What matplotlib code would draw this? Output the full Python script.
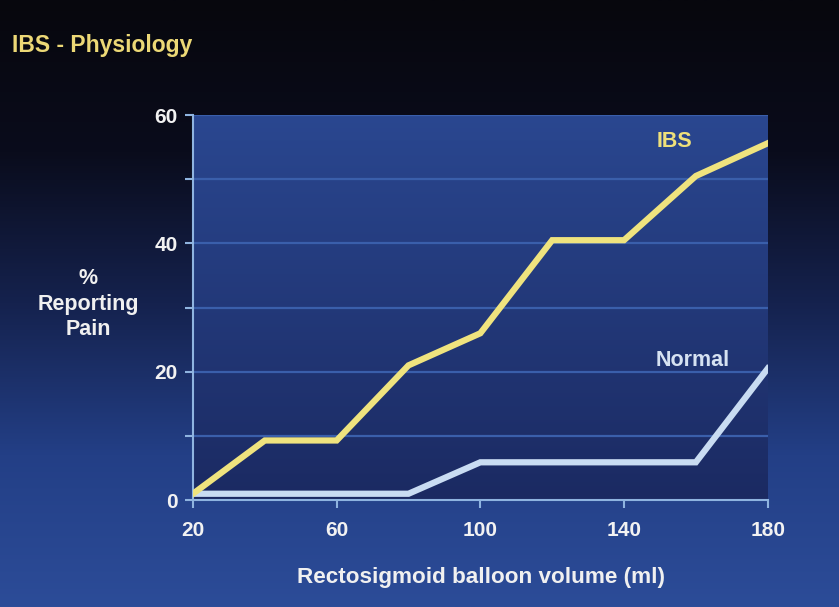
import numpy as np
import matplotlib
matplotlib.use("Agg")
import matplotlib.pyplot as plt
from matplotlib.colors import LinearSegmentedColormap

volume = [20, 40, 60, 80, 100, 120, 140, 160, 180]
ibs = [1, 9.3, 9.3, 21, 26, 40.5, 40.5, 50.5, 55.6]
normal = [1, 1, 1, 1, 5.9, 5.9, 5.9, 5.9, 20.5]
x_ticks = [20, 60, 100, 140, 180]
y_ticks = [0, 20, 40, 60]
y_grid = [10, 20, 30, 40, 50]

plt.rcParams['font.family'] = ['Liberation Sans', 'DejaVu Sans']

fig = plt.figure(figsize=(8.39, 6.07), dpi=100)

# figure background gradient
bg = fig.add_axes([0, 0, 1, 1], zorder=0)
bg_cmap = LinearSegmentedColormap.from_list(
    "bg", [(0, "#07070d"), (0.25, "#0a0c1c"), (0.5, "#15224e"), (0.75, "#233f86"), (1, "#2c4c98")])
grad = np.linspace(0, 1, 256).reshape(-1, 1)
bg.imshow(grad, aspect="auto", cmap=bg_cmap, extent=[0, 1, 0, 1], origin="upper")
bg.set_axis_off()

ax = fig.add_axes([0.230, 0.176, 0.685, 0.6345], zorder=1)
ax.set_xlim(20, 180)
ax.set_ylim(0, 60)

ax_cmap = LinearSegmentedColormap.from_list("axbg", [(0, "#2a4790"), (1, "#1b2a62")])
ax.imshow(grad, aspect="auto", cmap=ax_cmap, extent=[0, 1, 0, 1], origin="upper",
          transform=ax.transAxes, zorder=0)

for g in y_grid:
    ax.axhline(g, color="#3a5fab", lw=1.6, zorder=1)
ax.axhline(60, color="#3a5fab", lw=1.6, zorder=1)

ax.plot(volume, normal, color="#c9dcf2", lw=4.5, solid_joinstyle="miter", zorder=3)
ax.plot(volume, ibs, color="#efe37e", lw=4.5, solid_joinstyle="miter", zorder=4)

ax.text(154, 55.8, "IBS", color="#efe07a", fontsize=15.5, fontweight="bold",
        ha="center", va="center")
ax.text(159, 21.8, "Normal", color="#d6e2f2", fontsize=15.5, fontweight="bold",
        ha="center", va="center")

for s in ["top", "right"]:
    ax.spines[s].set_visible(False)
for s in ["left", "bottom"]:
    ax.spines[s].set_color("#8fb4e0")
    ax.spines[s].set_linewidth(1.5)

ax.set_xticks(x_ticks)
ax.set_xticklabels([str(v) for v in x_ticks])
ax.set_yticks(np.arange(0, 61, 10))
ax.set_yticklabels([str(v) if v in y_ticks else "" for v in np.arange(0, 61, 10)])
ax.tick_params(axis="both", colors="#8fb4e0", width=1.5, length=6, labelcolor="#f2f2f2",
               labelsize=15)
ax.tick_params(axis="x", pad=9)
ax.tick_params(axis="y", pad=5)
for lab in ax.get_xticklabels() + ax.get_yticklabels():
    lab.set_fontweight("bold")

fig.text(0.014, 0.925, "IBS - Physiology", color="#ecd876", fontsize=16.5,
         fontweight="bold", ha="left", va="center")
fig.text(0.105, 0.499, "%\nReporting\nPain", color="#f0f0f0", fontsize=15.5,
         fontweight="bold", ha="center", va="center", linespacing=1.3)
fig.text(0.573, 0.049, "Rectosigmoid balloon volume (ml)", color="#f0f0f0", fontsize=16.2,
         fontweight="bold", ha="center", va="center")

fig.savefig("out.png", dpi=100)
